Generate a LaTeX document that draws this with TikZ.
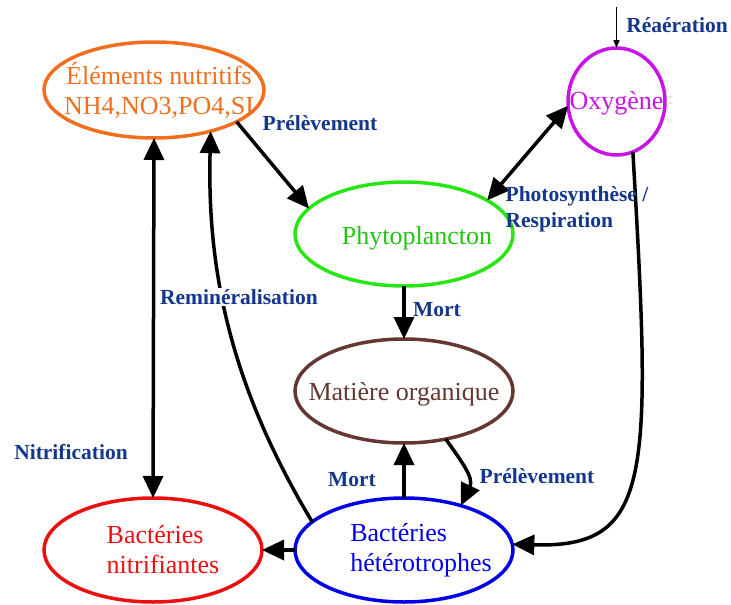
\documentclass[tikz,border=0pt]{standalone}
\usepackage{fontspec}
\setmainfont{Liberation Serif}
\usetikzlibrary{%
    arrows.meta,
    positioning,
    shapes.geometric
}
\definecolor{nutrorange}{RGB}{240,110,30}
\definecolor{oxymagenta}{RGB}{200,20,230}
\definecolor{phytogreen}{RGB}{40,230,20}
\definecolor{matbrown}{RGB}{100,55,50}
\definecolor{bactblue}{RGB}{0,0,230}
\definecolor{nitrred}{RGB}{235,15,15}
\definecolor{labelblue}{RGB}{20,55,140}
\tikzset{compartment/.style = {ellipse, draw, line width=3.5pt, outer sep=0pt, minimum width=218pt, minimum height=104pt}}
\tikzset{compname/.style = {font=\fontsize{26}{30}\selectfont, inner sep=0pt}}
\tikzset{flowlabel/.style = {text=labelblue, font=\fontsize{21.5}{26}\selectfont\bfseries, inner sep=1pt}}
\tikzset{flow/.style = {line width=3.5pt, -{Triangle[length=22pt,width=20pt]}}}
\tikzset{exchange/.style = {line width=3.5pt, {Triangle[length=22pt,width=20pt]}-{Triangle[length=22pt,width=20pt]}}}

\begin{document}
\begin{tikzpicture}[x=1pt, y=-1pt]
    \useasboundingbox (0,0) rectangle (731,605);

    % compartments
    \node[compartment, draw=phytogreen] (phyto) at (404,234) {};
    \node[compartment, draw=matbrown] (matiere) [below=53pt of phyto] {};
    \node[compartment, draw=bactblue] (bacth) [below=55pt of matiere] {};
    \node[compartment, draw=nitrred] (nitr) [left=33pt of bacth] {};
    \node[compartment, draw=nutrorange, minimum width=220pt, minimum height=96pt] (nutr) at (154,90) {};
    \node[compartment, draw=oxymagenta, minimum width=97pt, minimum height=107pt] (oxy) at (616.5,101.5) {};

    % names in the compartments
    \node[compname, text=nutrorange, align=center] (nutr-name) at ([xshift=5pt]nutr.center) {Éléments nutritifs\\NH4,NO3,PO4,SI};
    \node[compname, text=oxymagenta] (oxy-name) at ([yshift=-2pt]oxy.center) {Oxygène};
    \node[compname, text=phytogreen!85!black] (phyto-name) at ([xshift=13pt,yshift=-4pt]phyto.center) {Phytoplancton};
    \node[compname, text=matbrown] (matiere-name) at ([yshift=-3pt]matiere.center) {Matière organique};
    \node[compname, text=bactblue, align=left] (bacth-name) at ([xshift=17pt]bacth.center) {Bactéries\\hétérotrophes};
    \node[compname, text=nitrred, align=left] (nitr-name) at ([xshift=10pt]nitr.center) {Bactéries\\nitrifiantes};

    % fluxes
    \coordinate (air) at (616.5,7);
    \draw[line width=1.5pt, -{Triangle[length=8pt,width=6pt]}] (air) -- (oxy.north);
    \draw[flow] (nutr.-21) -- (phyto.165);
    \draw[exchange] (oxy.185) -- (phyto.22);
    \draw[exchange] (nutr.south) -- (nitr.north);
    \foreach \Source/\Target in {%
        phyto.south/matiere.north,
        bacth.north/matiere.south,
        bacth.west/nitr.east%
        }
        \draw[flow] (\Source) -- (\Target);
    \draw[flow] (bacth.163) .. controls (230,385) and (207,270) .. (nutr.-36);
    \draw[flow] (matiere.-49) .. controls (462,462) and (474,478) .. (bacth.38);
    \draw[flow] (oxy.-72) .. controls (652,480) and (652,548) .. (bacth.3);

    % labels
    \node[flowlabel] (reaer-label) at (677,25) {Réaération};
    \node[flowlabel] (prelev-label) at (320,123) {Prélèvement};
    \node[flowlabel, align=left] (photo-label) at (577,209) {Photosynthèse /\\Respiration};
    \node[flowlabel] (mort-label) at (437,310) {Mort};
    \node[flowlabel, fill=white] (remin-label) at (239,297) {Reminéralisation};
    \node[flowlabel] (nitrif-label) at (71,452) {Nitrification};
    \node[flowlabel] (mortb-label) at (352,480) {Mort};
    \node[flowlabel] (prelevb-label) at (537,476) {Prélèvement};
\end{tikzpicture}
\end{document}
